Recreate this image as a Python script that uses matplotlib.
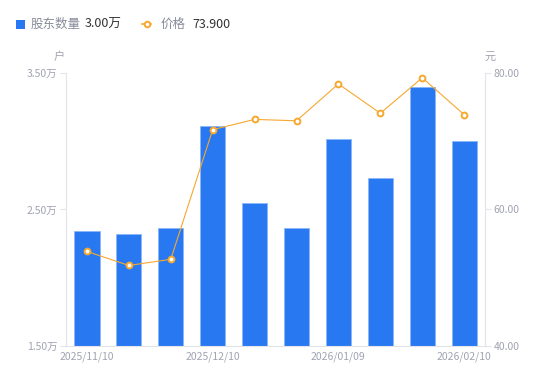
import matplotlib
matplotlib.use("Agg")
import matplotlib.pyplot as plt
from matplotlib.lines import Line2D
from matplotlib.patches import Rectangle

plt.rcParams['font.family'] = ['Noto Sans CJK SC', 'DejaVu Sans']

# data
dates = ['2025/11/10', '', '', '2025/12/10', '', '', '2026/01/09', '', '', '2026/02/10']
holders = [2.346, 2.324, 2.361, 3.115, 2.551, 2.368, 3.020, 2.734, 3.394, 3.00]  # 万户
price = [53.85, 51.8, 52.7, 71.7, 73.2, 73.0, 78.4, 74.1, 79.3, 73.9]
left_ticks = [1.5, 2.5, 3.5]
right_ticks = [40, 60, 80]

blue = '#2878f2'
orange = '#f7a82f'
gray = '#a0a3b1'
axis_c = '#e3e4e8'

fig = plt.figure(figsize=(5.5, 3.81), dpi=100)
ax = fig.add_axes([0.12, 0.0919, 0.762, 0.7165])
x = list(range(len(holders)))

ax.bar(x, [h - 1.5 for h in holders], bottom=1.5, width=0.6, color=blue,
       edgecolor='#8db6f7', linewidth=0.6, zorder=2)
ax.set_xlim(-0.5, 9.5)
ax.set_ylim(1.5, 3.5)
ax.set_yticks(left_ticks)
ax.set_yticklabels(['%.2f万' % t for t in left_ticks])
ax.set_xticks(x)
ax.set_xticklabels(dates)

ax2 = ax.twinx()
ax2.plot(x, price, color=orange, linewidth=0.8, marker='o', markersize=4.2,
         markerfacecolor='white', markeredgecolor=orange, markeredgewidth=1.4, zorder=3)
ax2.set_ylim(40, 80)
ax2.set_yticks(right_ticks)
ax2.set_yticklabels(['%.2f' % t for t in right_ticks])

for a in (ax, ax2):
    for s in a.spines.values():
        s.set_visible(False)
    a.tick_params(colors=gray, labelsize=7.5, length=4, width=0.8, color=axis_c)
ax.spines['left'].set_visible(True)
ax.spines['left'].set_color(axis_c)
ax.spines['bottom'].set_visible(True)
ax.spines['bottom'].set_color(axis_c)
ax2.spines['right'].set_visible(True)
ax2.spines['right'].set_color(axis_c)
ax.tick_params(axis='x', length=0, pad=4)
ax.tick_params(axis='y', pad=2)
ax2.tick_params(axis='y', pad=2)

fig.text(59 / 550, 1 - 57 / 381, '户', color=gray, fontsize=8, ha='center', va='center')
fig.text(490 / 550, 1 - 57 / 381, '元', color=gray, fontsize=8, ha='center', va='center')

# legend header
fig.patches.append(Rectangle((16 / 550, 1 - 29 / 381), 9 / 550, 9 / 381, transform=fig.transFigure,
                             facecolor=blue, edgecolor='none'))
fig.text(31 / 550, 1 - 24 / 381, '股东数量', color='#888b99', fontsize=9, va='center')
fig.text(85 / 550, 1 - 24 / 381, '3.00万', color='#333333', fontsize=9, va='center')
fig.lines.append(Line2D([142 / 550, 151 / 550], [1 - 24 / 381, 1 - 24 / 381], transform=fig.transFigure,
                        color=orange, linewidth=1.2))
fig.lines.append(Line2D([146.5 / 550], [1 - 24 / 381], transform=fig.transFigure, linestyle='none',
                        marker='o', markersize=4, markerfacecolor='white', markeredgecolor=orange,
                        markeredgewidth=1.4))
fig.text(161 / 550, 1 - 24 / 381, '价格', color='#888b99', fontsize=9, va='center')
fig.text(192 / 550, 1 - 24 / 381, '73.900', color='#333333', fontsize=9, va='center')

fig.savefig('out.png', dpi=100)
